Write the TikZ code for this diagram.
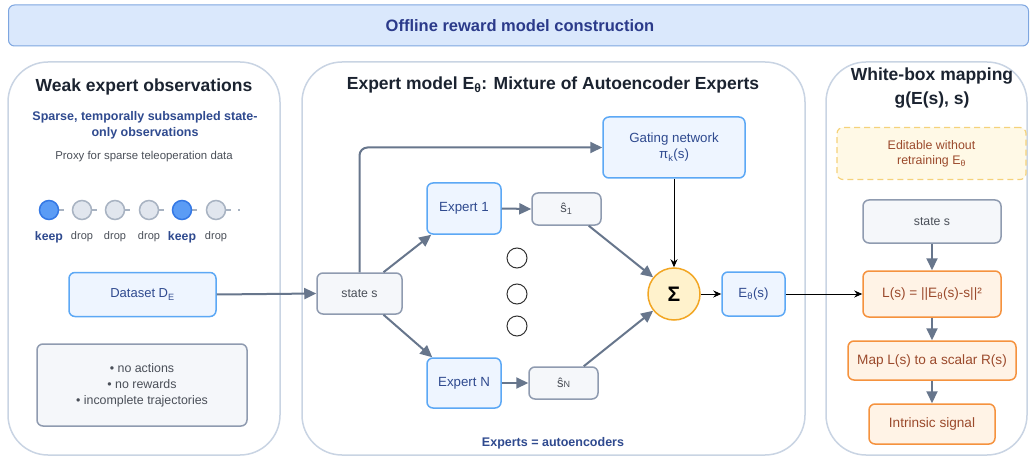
\documentclass[tikz,border=0pt]{standalone}
\usepackage{fontspec}
\setmainfont{Liberation Sans}
\usetikzlibrary{arrows.meta,calc}
\definecolor{bannerfill}{HTML}{DAE8FC}
\definecolor{bannerdraw}{HTML}{7EA6E0}
\definecolor{navy}{HTML}{2B3A8A}
\definecolor{paneldraw}{HTML}{C9D4E3}
\definecolor{titlecol}{HTML}{1B2330}
\definecolor{bluefill}{HTML}{EEF5FF}
\definecolor{bluedraw}{HTML}{5CA8F5}
\definecolor{bluetext}{HTML}{2F4A8F}
\definecolor{grayfill}{HTML}{F5F7FA}
\definecolor{graydraw}{HTML}{8F9BB0}
\definecolor{graytext}{HTML}{4A4F58}
\definecolor{arrowcol}{HTML}{67768C}
\definecolor{sigmafill}{HTML}{FFF2CC}
\definecolor{sigmadraw}{HTML}{F2A623}
\definecolor{orfill}{HTML}{FFF3E6}
\definecolor{ordraw}{HTML}{F5923E}
\definecolor{ortext}{HTML}{9B4A2C}
\definecolor{yelfill}{HTML}{FFF9E6}
\definecolor{yeldraw}{HTML}{F5D27A}
\definecolor{keepfill}{HTML}{5B9CF5}
\definecolor{keepdraw}{HTML}{3478E5}
\definecolor{dropfill}{HTML}{E1E6EE}
\definecolor{dropdraw}{HTML}{A8B3C2}
\begin{document}
\begin{tikzpicture}[x=1pt,y=-1pt,
  panel/.style={draw=paneldraw,line width=1.5pt,fill=white,rounded corners=40pt},
  ptitle/.style={font=\fontsize{17.5}{24}\selectfont\bfseries,text=titlecol,align=center},
  bluebox/.style={draw=bluedraw,line width=1.5pt,fill=bluefill,rounded corners=6pt,text=bluetext,font=\fontsize{13.3}{16}\selectfont,align=center,inner sep=0pt},
  graybox/.style={draw=graydraw,line width=1.5pt,fill=grayfill,rounded corners=6pt,text=graytext,font=\fontsize{12.3}{14.5}\selectfont,align=center,inner sep=0pt},
  orbox/.style={draw=ordraw,line width=1.5pt,fill=orfill,rounded corners=6pt,text=ortext,font=\fontsize{13.6}{16}\selectfont,align=center,inner sep=0pt},
  garrow/.style={draw=arrowcol,line width=2pt,-{Triangle[length=12pt,width=11pt]}},
  karrow/.style={draw=black,line width=0.9pt,-{Stealth[length=8pt,width=7pt]}},
  keepc/.style={circle,draw=keepdraw,line width=1.5pt,fill=keepfill,minimum size=19pt,inner sep=0pt},
  dropc/.style={circle,draw=dropdraw,line width=1.5pt,fill=dropfill,minimum size=19pt,inner sep=0pt},
  keepl/.style={font=\fontsize{12.3}{14}\selectfont\bfseries,text=bluetext},
  dropl/.style={font=\fontsize{11}{13}\selectfont,text=graytext},
  dotc/.style={circle,draw=black!80,line width=1pt,fill=white,minimum size=20pt,inner sep=0pt}
]
\useasboundingbox (0,0) rectangle (1030,457);
% banner
\node[draw=bannerdraw,line width=1pt,fill=bannerfill,rounded corners=6pt,minimum width=1020pt,minimum height=41pt,inner sep=0pt] (banner) at (518.5,25.5) {};
\node[font=\fontsize{16.5}{19}\selectfont\bfseries,text=navy] (bannertxt) at (520,26) {Offline reward model construction};
% panels
\draw[panel] (8,62) rectangle (280,455);
\draw[panel] (302,62) rectangle (805,455);
\draw[panel] (826,62) rectangle (1027,455);
% left panel
\node[ptitle] (ltitle) at (144,87) {Weak expert observations};
\node[font=\fontsize{12.5}{15.5}\selectfont\bfseries,text=bluetext,align=center] (sparse) at (145,125.5) {Sparse, temporally subsampled state-\\only observations};
\node[font=\fontsize{11.4}{13}\selectfont,text=graytext] (proxy) at (144,157) {Proxy for sparse teleoperation data};
\foreach \i/\x/\s in {1/49/keepc,2/82/dropc,3/115/dropc,4/149/dropc,5/182/keepc,6/216/dropc}{
  \draw[dropdraw,line width=1.2pt] (\x+9,210) -- (\x+15,210);
  \node[\s] (c\i) at (\x,210) {};
}
\node[fill=dropdraw,inner sep=0pt,minimum width=2pt,minimum height=1.5pt] (cdot) at (239,210) {};
\node[keepl] (l1) at (49,237) {keep};
\node[dropl] (l2) at (82,237) {drop};
\node[dropl] (l3) at (115,237) {drop};
\node[dropl] (l4) at (149,237) {drop};
\node[keepl] (l5) at (182,237) {keep};
\node[dropl] (l6) at (216,237) {drop};
\node[bluebox,minimum width=147pt,minimum height=44pt,font=\fontsize{13}{16}\selectfont] (dataset) at (142.5,294.5) {Dataset D\textsubscript{E}};
\node[graybox,minimum width=210pt,minimum height=82pt,font=\fontsize{12.4}{16}\selectfont] (notes) at (142,385) {• no actions\\• no rewards\\• incomplete trajectories};
% middle panel
\node[ptitle] (mtitle) at (553,85) {Expert model E\textsubscript{θ}: Mixture of Autoencoder Experts};
\node[bluebox,minimum width=142pt,minimum height=61pt] (gating) at (674,147.5) {Gating network\\π\textsubscript{k}(s)};
\node[graybox,minimum width=85pt,minimum height=41pt] (state) at (359.5,293.5) {state s};
\node[bluebox,minimum width=74pt,minimum height=51pt] (expert1) at (464,208.5) {Expert 1};
\node[graybox,minimum width=69pt,minimum height=32pt,font=\fontsize{13}{15}\selectfont] (s1) at (566.5,209) {ŝ\textsubscript{1}};
\node[bluebox,minimum width=74pt,minimum height=50pt] (expertN) at (464,383) {Expert N};
\node[graybox,minimum width=69pt,minimum height=32pt,font=\fontsize{13}{15}\selectfont] (sN) at (563.5,383) {ŝ{\fontsize{9}{9}\selectfont N}};
\node[dotc] (d1) at (517,258) {};
\node[dotc] (d2) at (517,294) {};
\node[dotc] (d3) at (517,326) {};
\node[circle,draw=sigmadraw,line width=1.5pt,fill=sigmafill,minimum size=52pt,inner sep=0pt,font=\fontsize{21}{21}\selectfont\bfseries] (sigma) at (674,294) {Σ};
\node[bluebox,minimum width=63pt,minimum height=44pt] (etheta) at (753.5,294) {E\textsubscript{θ}(s)};
\node[font=\fontsize{12.5}{14}\selectfont\bfseries,text=bluetext] (expnote) at (553,443) {Experts = autoencoders};
% right panel
\node[ptitle] (rtitle) at (932,88.5) {White-box mapping\\g(E(s), s)};
\node[draw=yeldraw,dashed,dash pattern=on 6pt off 4pt,line width=1.2pt,fill=yelfill,rounded corners=6pt,minimum width=189pt,minimum height=52pt,text=ortext,font=\fontsize{12.4}{15}\selectfont,align=center,inner sep=0pt] (editable) at (931.5,153.5) {Editable without\\retraining E\textsubscript{θ}};
\node[graybox,minimum width=138pt,minimum height=43pt] (stateR) at (932,221.5) {state s};
\node[orbox,minimum width=138pt,minimum height=46pt] (loss) at (932,294) {L(s) = ||E\textsubscript{θ}(s)-s||²};
\node[orbox,minimum width=168pt,minimum height=39pt] (map) at (932,360.5) {Map L(s) to a scalar R(s)};
\node[orbox,minimum width=126pt,minimum height=40pt] (intr) at (932,424) {Intrinsic signal};
% connectors
\draw[garrow] (dataset.east) -- (state.west);
\draw[garrow,rounded corners=8pt] (state.north) |- (gating.west);
\draw[garrow] ([xshift=24pt]state.north) -- ([xshift=5pt]expert1.south west);
\draw[garrow] ([xshift=24pt]state.south) -- ([xshift=6pt]expertN.north west);
\draw[garrow] (expert1.east) -- (s1.west);
\draw[garrow] (expertN.east) -- (sN.west);
\draw[garrow] ([xshift=-13pt]s1.south east) -- (sigma);
\draw[garrow] ([xshift=-15pt]sN.north east) -- (sigma);
\draw[karrow] (gating.south) -- (sigma.north);
\draw[karrow] (sigma.east) -- (etheta.west);
\draw[karrow] (etheta.east) -- (loss.west);
\draw[garrow] (stateR.south) -- (loss.north);
\draw[garrow] (loss.south) -- (map.north);
\draw[garrow] (map.south) -- (intr.north);
\end{tikzpicture}
\end{document}
